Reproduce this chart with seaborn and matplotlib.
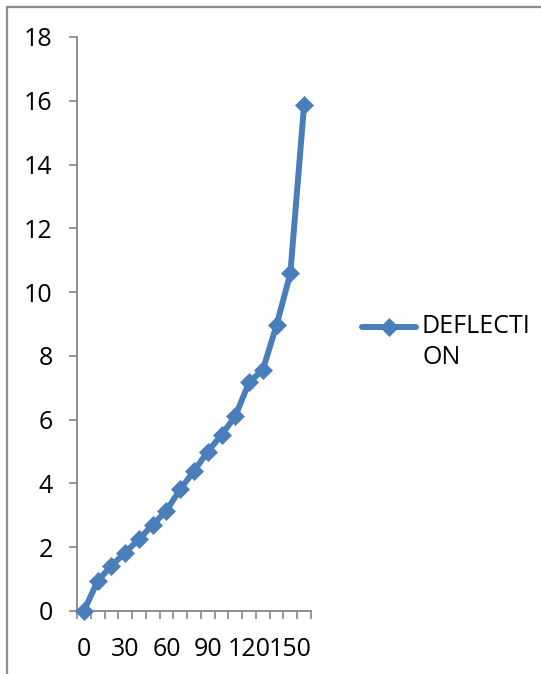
import numpy as np
import pandas as pd
import matplotlib
matplotlib.use("Agg")
import matplotlib.pyplot as plt
from matplotlib.lines import Line2D
from matplotlib.ticker import FixedLocator
import seaborn as sns

# Load steps and measured deflection
loads = [0, 10, 20, 30, 40, 50, 60, 70, 80, 90, 100, 110, 120, 130, 140, 150, 160]
deflection = [0.0, 0.94, 1.42, 1.83, 2.25, 2.70, 3.15, 3.82, 4.39, 5.00,
              5.52, 6.11, 7.17, 7.56, 8.97, 10.59, 15.88]
y_ticks = [0, 2, 4, 6, 8, 10, 12, 14, 16, 18]
series_label = "DEFLECTI\nON"

sns.set_theme(style="white")
plt.rcParams["font.family"] = ["Open Sans", "DejaVu Sans"]
plt.rcParams["text.color"] = "black"

BLUE = "#4A7EBB"
GREY = "#868686"
FS = 18

df = pd.DataFrame({"pos": np.arange(len(loads)), "deflection": deflection})

fig = plt.figure(figsize=(5.41, 6.74), dpi=100)
ax = fig.add_axes([77 / 541, 1 - 611 / 674, (311 - 77) / 541, (611 - 37) / 674])

sns.lineplot(data=df, x="pos", y="deflection", ax=ax, color=BLUE, linewidth=4.3,
             marker="D", markersize=9.5, markeredgewidth=0.5, markeredgecolor=BLUE,
             label=series_label, clip_on=False, zorder=3)

ax.set_xlim(-0.5, len(loads) - 0.5)
ax.set_ylim(0, 18)
ax.set_yticks(y_ticks)
ax.set_yticklabels([str(v) for v in y_ticks])

# Category axis: ticks on the boundaries, labels on every third category
ax.set_xticks(np.arange(0, len(loads), 3))
ax.set_xticklabels([str(v) for v in loads[::3]])
ax.xaxis.set_minor_locator(FixedLocator(np.arange(-0.5, len(loads), 1.0)))
ax.tick_params(axis="x", which="major", length=0, pad=19, labelsize=FS, labelcolor="black")
ax.tick_params(axis="x", which="minor", bottom=True, length=5.5, width=1.2, color=GREY, direction="out")
ax.tick_params(axis="y", which="major", left=True, length=5.5, width=1.2, color=GREY,
               direction="out", pad=12, labelsize=FS, labelcolor="black")

ax.set_xlabel("")
ax.set_ylabel("")
for side in ("top", "right"):
    ax.spines[side].set_visible(False)
for side in ("left", "bottom"):
    ax.spines[side].set_color(GREY)
    ax.spines[side].set_linewidth(1.3)

leg = ax.legend(loc="upper left", bbox_to_anchor=(362 / 541, 1 - 314 / 674),
                bbox_transform=fig.transFigure, frameon=False, fontsize=FS,
                handlelength=2.15, handletextpad=0.25, borderpad=0, borderaxespad=0)
for t in leg.get_texts():
    t.set_linespacing(1.3)
# keep the legend line level with the first text line
for h in leg.legend_handles:
    h.set_ydata(np.asarray(h.get_ydata(), dtype=float) + 11)

# Outer chart border (left and top edges)
border = dict(transform=fig.transFigure, color="#8C8C8C", linewidth=1.6, zorder=5,
              clip_on=False)
fig.add_artist(Line2D([7 / 541, 7 / 541], [0, 1 - 7 / 674], **border))
fig.add_artist(Line2D([7 / 541, 1], [1 - 7 / 674, 1 - 7 / 674], **border))

fig.savefig("out.png", dpi=100)
